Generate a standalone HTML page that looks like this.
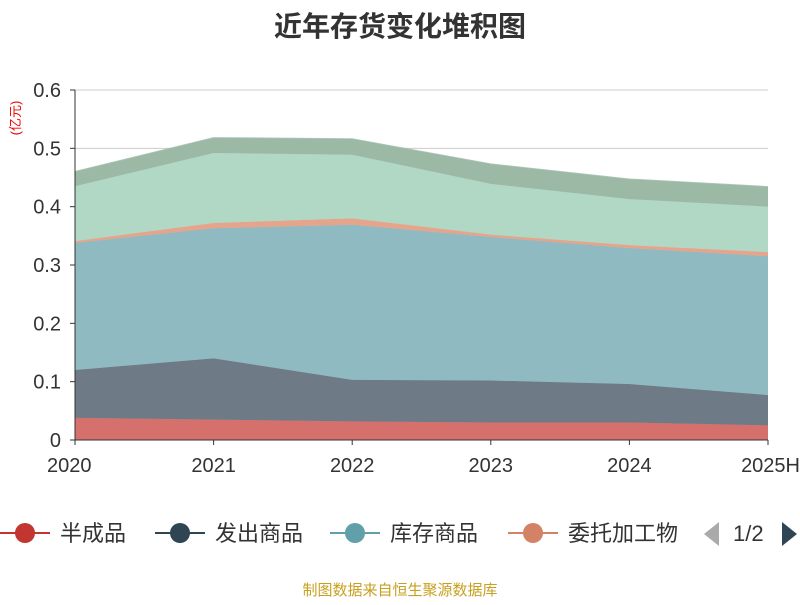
<!DOCTYPE html>
<html><head><meta charset="utf-8"><style>
body{margin:0;background:#fff;width:800px;height:600px;overflow:hidden;font-family:"Liberation Sans","Noto Sans CJK SC",sans-serif}
</style></head><body>
<svg id="chart" width="800" height="600" font-family="Liberation Sans, Noto Sans CJK SC, sans-serif">
<text x="400" y="36" text-anchor="middle" font-size="28" font-weight="bold" fill="#333">近年存货变化堆积图</text>
<text transform="translate(20,118) rotate(-90)" text-anchor="middle" font-size="13" fill="#e00">(亿元)</text>
<g id="grid"></g><g id="areas"></g><g id="axes"></g>
<g font-size="22" fill="#333">
<g><line x1="0" y1="533" x2="50" y2="533" stroke="#c23531" stroke-width="2"/><circle cx="25" cy="533" r="10" fill="#c23531"/><text x="60" y="541">半成品</text></g>
<g><line x1="155" y1="533" x2="205" y2="533" stroke="#2f4554" stroke-width="2"/><circle cx="180" cy="533" r="10" fill="#2f4554"/><text x="215" y="541">发出商品</text></g>
<g><line x1="330" y1="533" x2="380" y2="533" stroke="#61a0a8" stroke-width="2"/><circle cx="355" cy="533" r="10" fill="#61a0a8"/><text x="390" y="541">库存商品</text></g>
<g><line x1="508" y1="533" x2="558" y2="533" stroke="#d48265" stroke-width="2"/><circle cx="533" cy="533" r="10" fill="#d48265"/><text x="568" y="541">委托加工物</text></g>
<polygon points="719,522 719,546 704,534" fill="#aaa"/>
<text x="733" y="541" font-size="22">1/2</text>
<polygon points="782,522 782,546 797,534" fill="#2f4554"/>
</g>
<text x="400" y="595" text-anchor="middle" font-size="15" fill="#c8a020">制图数据来自恒生聚源数据库</text>
</svg>
<script>
const categories=["2020","2021","2022","2023","2024","2025H"];
const semiFinished=[0.038,0.035,0.032,0.030,0.030,0.025];
const goodsShipped=[0.082,0.105,0.071,0.072,0.066,0.052];
const inventoryGoods=[0.218,0.223,0.266,0.246,0.233,0.238];
const consignedProc=[0.003,0.009,0.011,0.004,0.005,0.007];
const finishedGoods=[0.094,0.120,0.109,0.087,0.079,0.078];
const rawMaterials=[0.025,0.026,0.027,0.034,0.034,0.034];
const yTicks=[0,0.1,0.2,0.3,0.4,0.5,0.6];
const yTickLabels=["0","0.1","0.2","0.3","0.4","0.5","0.6"];
const NS="http://www.w3.org/2000/svg";
const x0=75,x1=768,yb=440,yt=90,ymax=0.6;
const xs=i=>x0+(x1-x0)*i/(categories.length-1);
const ys=v=>yb-(yb-yt)*v/ymax;
function mk(t,a,p){const e=document.createElementNS(NS,t);for(const k in a)e.setAttribute(k,a[k]);p.appendChild(e);return e;}
const grid=document.getElementById('grid'),axes=document.getElementById('axes'),areas=document.getElementById('areas');
yTicks.forEach((v,i)=>{
 if(v>0){const l=mk('line',{x1:x0,x2:x1,y1:ys(v),y2:ys(v),stroke:'#ccc'},grid);
 
 }
 const t=mk('text',{x:x0-14,y:ys(v)+7,'text-anchor':'end','font-size':20,fill:'#333'},axes);t.textContent=yTickLabels[i];
 
 
});
const series=[[semiFinished,'#d6706c','semi-finished'],[goodsShipped,'#6e7b86','goods-shipped'],[inventoryGoods,'#90bac1','inventory-goods'],[consignedProc,'#e5a58c','consigned-processing'],[finishedGoods,'#b1d7c5','finished-goods'],[rawMaterials,'#9cb9a6','raw-materials']];
let base=categories.map(()=>0);
series.forEach(([d,c,n])=>{
 const top=base.map((b,i)=>b+d[i]);
 let pts=top.map((v,i)=>xs(i)+','+ys(v));
 for(let i=categories.length-1;i>=0;i--)pts.push(xs(i)+','+ys(base[i]));
 const p=mk('polygon',{points:pts.join(' '),fill:c},areas);
 
 
 const ln=mk('polyline',{points:top.map((v,i)=>xs(i)+','+ys(v)).join(' '),fill:'none',stroke:c,'stroke-width':1.5,opacity:0.8},areas);
 
 
 base=top;
});
const ya=mk('line',{x1:x0,x2:x0,y1:yt,y2:yb,stroke:'#333'},axes);


const xa=mk('line',{x1:x0,x2:x1,y1:yb,y2:yb,stroke:'#333'},axes);


yTicks.forEach(v=>{const tk=mk('line',{x1:x0-5,x2:x0,y1:ys(v),y2:ys(v),stroke:'#333'},axes);
 
 });
categories.forEach((c,i)=>{
 const tk=mk('line',{x1:xs(i),x2:xs(i),y1:yb,y2:yb+5,stroke:'#333'},axes);
 
 
 const anchor=i===categories.length-1?'end':(i===0?'start':'middle');
 const t=mk('text',{x:i===0?x0-28:(i===categories.length-1?x1+32:xs(i)),y:472,'text-anchor':anchor,'font-size':20,fill:'#333'},axes);
 t.textContent=c;
 
 
});
</script>
</body></html>
